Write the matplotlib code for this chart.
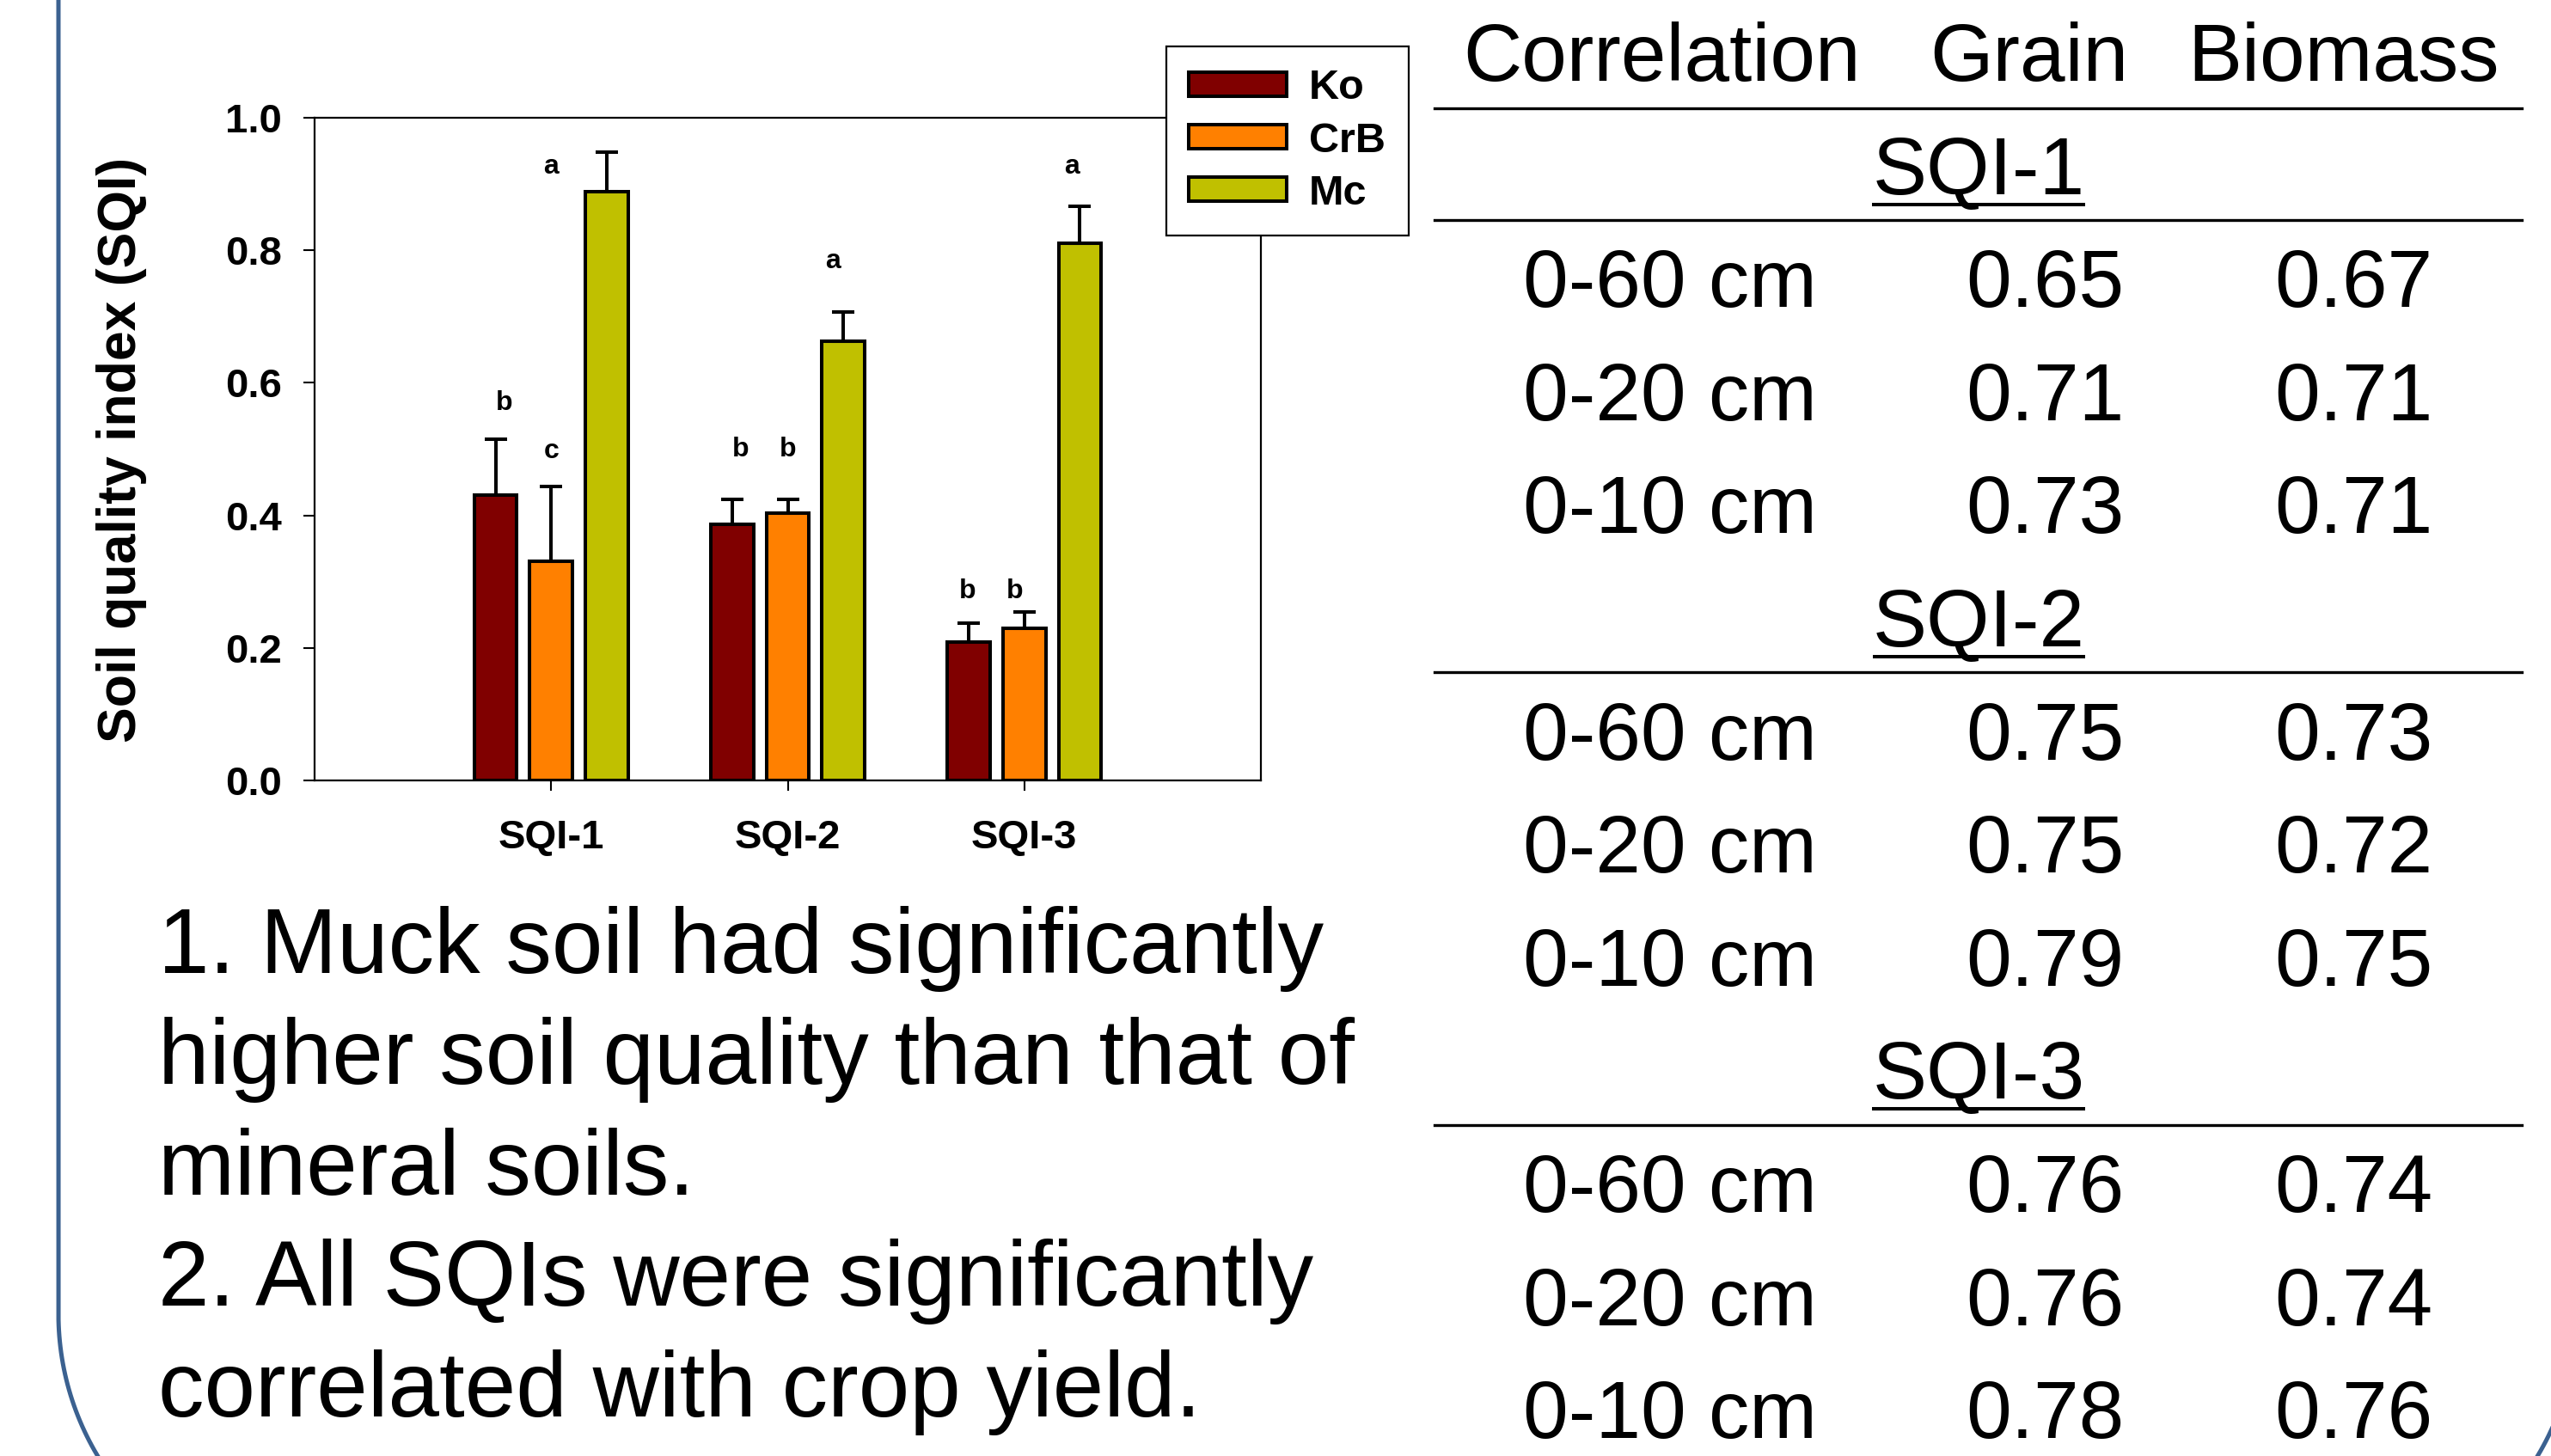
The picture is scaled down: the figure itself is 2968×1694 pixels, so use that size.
import numpy as np
import matplotlib.pyplot as plt

plt.rcParams['font.family'] = ['Liberation Sans', 'DejaVu Sans']

W, H = 2968, 1694

# bar chart data
groups = ['SQI-1', 'SQI-2', 'SQI-3']
ko_mean = [0.430, 0.387, 0.209]
crb_mean = [0.331, 0.403, 0.229]
mc_mean = [0.888, 0.663, 0.810]
ko_err = [0.085, 0.037, 0.029]
crb_err = [0.113, 0.021, 0.025]
mc_err = [0.060, 0.044, 0.056]

letters = ['b', 'c', 'a', 'b', 'b', 'a', 'b', 'b', 'a']
letter_x = [0.80, 1.00, 1.00, 1.80, 2.00, 2.19, 2.76, 2.96, 3.20]
letter_y = [0.570, 0.497, 0.926, 0.499, 0.499, 0.784, 0.285, 0.285, 0.926]

# correlation table
depths = ['0-60 cm', '0-20 cm', '0-10 cm']
grain_r = [[0.65, 0.71, 0.73], [0.75, 0.75, 0.79], [0.76, 0.76, 0.78]]
biomass_r = [[0.67, 0.71, 0.71], [0.73, 0.72, 0.75], [0.74, 0.74, 0.76]]

notes = ['1. Muck soil had significantly',
         'higher soil quality than that of',
         'mineral soils.',
         '2. All SQIs were significantly',
         'correlated with crop yield.']

fig = plt.figure(figsize=(W / 100, H / 100), dpi=100)
fig.patch.set_facecolor('white')

# background layer in pixel coordinates (y down)
bg = fig.add_axes([0, 0, 1, 1])
bg.set_xlim(0, W)
bg.set_ylim(H, 0)
bg.axis('off')

# rounded panel border, only its lower corners are in view
rad, left, right, bottom = 321, 68, 2998, 1850
cy = bottom - rad
th1 = np.linspace(np.pi, np.pi / 2, 80)
th2 = np.linspace(np.pi / 2, 0, 80)
bx = np.concatenate([[left], left + rad + rad * np.cos(th1),
                     right - rad + rad * np.cos(th2), [right]])
by = np.concatenate([[-20], cy + rad * np.sin(th1),
                     cy + rad * np.sin(th2), [-20]])
bg.plot(bx, by, color='#3B6190', linewidth=3.6)

# bar chart
ax = fig.add_axes([366 / W, 1 - 908 / H, 1101 / W, 771 / H])
x = np.arange(1, len(groups) + 1)
width = 0.18
bar_kw = dict(edgecolor='black', linewidth=2.9, zorder=2)
b1 = ax.bar(x - 0.235, ko_mean, width, color='#800000', label='Ko', **bar_kw)
b2 = ax.bar(x, crb_mean, width, color='#FF8000', label='CrB', **bar_kw)
b3 = ax.bar(x + 0.235, mc_mean, width, color='#C0C000', label='Mc', **bar_kw)

err_kw = dict(fmt='none', ecolor='black', elinewidth=2.9, capsize=9.7,
              capthick=2.9, zorder=3)
for off, m, e in [(-0.235, ko_mean, ko_err), (0, crb_mean, crb_err),
                  (0.235, mc_mean, mc_err)]:
    ax.errorbar(x + off, m, yerr=[np.zeros(len(e)), e], **err_kw)

for lx, ly, s in zip(letter_x, letter_y, letters):
    ax.text(lx, ly, s, ha='center', va='center', fontsize=23,
            fontweight='bold')

ax.set_xlim(0, 4)
ax.set_ylim(0, 1)
ax.set_xticks(x)
ax.set_xticklabels(groups, fontsize=34, fontweight='bold')
ax.set_yticks(np.arange(0, 1.01, 0.2))
ax.set_yticklabels([f'{v:.1f}' for v in np.arange(0, 1.01, 0.2)],
                   fontsize=34, fontweight='bold')
ax.tick_params(axis='x', direction='out', length=8.6, width=1.5, pad=24)
ax.tick_params(axis='y', direction='out', length=9.4, width=1.5, pad=18)
for sp in ax.spines.values():
    sp.set_linewidth(1.6)

leg = ax.legend(handles=[b1, b2, b3], loc='upper left',
                bbox_to_anchor=(1357 / W, 1 - 54 / H),
                bbox_transform=fig.transFigure, borderaxespad=0,
                prop={'size': 35, 'weight': 'bold'}, fancybox=False,
                edgecolor='black', framealpha=1, handlelength=2.34,
                handleheight=0.51, handletextpad=0.53, labelspacing=0.33,
                borderpad=0.545)
leg.get_frame().set_linewidth(1.6)

bg.text(142, 523, 'Soil quality index (SQI)', rotation=90, ha='center',
        va='center', fontsize=45, fontweight='bold')

# notes under the chart
for i, line in enumerate(notes):
    bg.text(184, 1132 + 129 * i, line, fontsize=77, va='baseline', ha='left')

# table
fs = 68
cap = 34
row0 = 60
step = 131.6
bg.text(1702, row0 + cap, 'Correlation', fontsize=fs, va='baseline')
bg.text(2245, row0 + cap, 'Grain', fontsize=fs, va='baseline')
bg.text(2545, row0 + cap, 'Biomass', fontsize=fs, va='baseline')

rule_y = [126, 256, 782, 1309]
for ry in rule_y:
    bg.plot([1669, 2934], [ry, ry], color='black', linewidth=2.4)

renderer = fig.canvas.get_renderer()
for g in range(len(groups)):
    base = 1 + 4 * g
    yc = row0 + step * base
    t = bg.text(2302, yc + cap, groups[g], fontsize=fs, va='baseline',
                ha='center')
    bb = t.get_window_extent(renderer)
    bg.plot([bb.x0, bb.x1], [yc + cap + 12] * 2, color='black',
            linewidth=2.9, solid_capstyle='butt')
    for r in range(len(depths)):
        yr = row0 + step * (base + 1 + r) + cap
        bg.text(1772, yr, depths[r], fontsize=fs, va='baseline')
        bg.text(2287, yr, f'{grain_r[g][r]:.2f}', fontsize=fs, va='baseline')
        bg.text(2646, yr, f'{biomass_r[g][r]:.2f}', fontsize=fs,
                va='baseline')

fig.savefig('out.png', dpi=100)
